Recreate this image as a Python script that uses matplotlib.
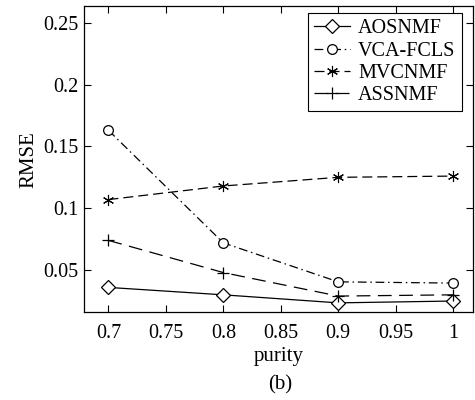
import matplotlib
matplotlib.use("Agg")
import matplotlib.pyplot as plt

# RMSE of each unmixing method versus endmember purity
purity = [0.7, 0.8, 0.9, 1.0]
aosnmf = [0.036, 0.030, 0.0235, 0.025]
vca_fcls = [0.163, 0.072, 0.0405, 0.0395]
mvcnmf = [0.107, 0.118, 0.125, 0.126]
assnmf = [0.074, 0.048, 0.029, 0.030]

xticks = [0.7, 0.75, 0.8, 0.85, 0.9, 0.95, 1.0]
xtick_labels = ["0.7", "0.75", "0.8", "0.85", "0.9", "0.95", "1"]
yticks = [0.05, 0.1, 0.15, 0.2, 0.25]
ytick_labels = ["0.05", "0.1", "0.15", "0.2", "0.25"]

plt.rcParams["font.family"] = ["Liberation Serif", "DejaVu Serif"]
plt.rcParams["font.size"] = 14.5

fig = plt.figure(figsize=(4.75, 4.0), dpi=100)
ax = fig.add_axes([0.1775, 0.219, 0.8175, 0.766])

lw = 0.9
asterisk = (6, 2, 0)
ax.plot(purity, aosnmf, color="black", lw=lw, ls="-", marker="D",
        ms=7, mfc="white", mec="black", mew=0.9, label="AOSNMF")
ax.plot(purity, vca_fcls, color="black", lw=lw, ls=(0, (7, 3, 1.2, 3)),
        marker="o", ms=7, mfc="white", mec="black", mew=0.9, label="VCA-FCLS")
ax.plot(purity, mvcnmf, color="black", lw=lw, ls=(0, (8, 4)),
        marker=asterisk, ms=8, mec="black", mew=0.8, label="MVCNMF")
ax.plot(purity, assnmf, color="black", lw=lw, ls=(0, (11, 6)),
        marker="+", ms=9, mec="black", mew=0.9, label="ASSNMF")

ax.set_xlim(0.679, 1.017)
ax.set_ylim(0.0158, 0.2635)
ax.set_xticks(xticks)
ax.set_xticklabels(xtick_labels)
ax.set_yticks(yticks)
ax.set_yticklabels(ytick_labels)
ax.tick_params(direction="in", top=True, right=True, length=5, width=0.8)
ax.tick_params(axis="x", pad=8)
ax.tick_params(axis="y", pad=4)
for spine in ax.spines.values():
    spine.set_linewidth(0.9)

ax.set_xlabel("purity", labelpad=3, fontsize=15)
ax.set_ylabel("RMSE", labelpad=4, fontsize=15)

leg = ax.legend(loc="upper right", bbox_to_anchor=(0.982, 0.99),
                fancybox=False, edgecolor="black", framealpha=1,
                handlelength=1.8, handletextpad=0.4, labelspacing=0.16,
                borderpad=0.3, borderaxespad=0.2)
leg.get_frame().set_linewidth(0.8)

fig.text(0.5895, 0.0375, "(b)", ha="center", va="center", fontsize=15)

fig.savefig("out.png", dpi=100)
